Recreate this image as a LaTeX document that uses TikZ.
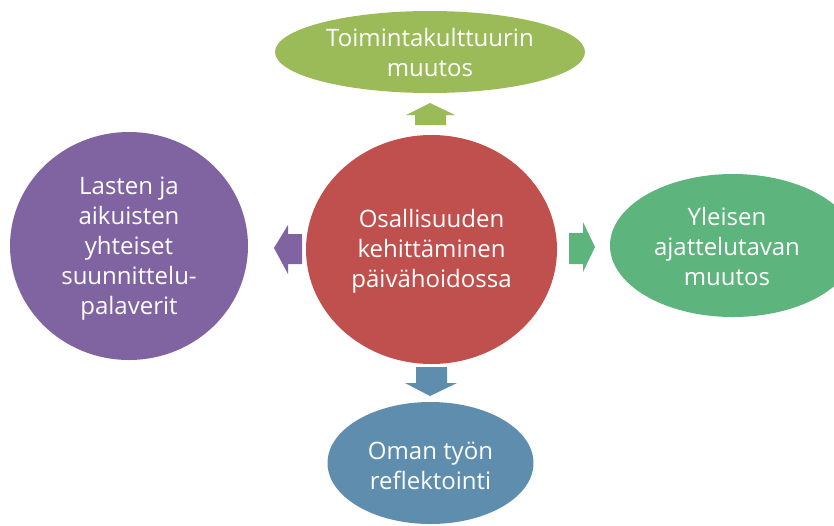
\documentclass[tikz,border=0pt]{standalone}
\usepackage{fontspec}
\setmainfont{Open Sans}
\definecolor{cred}{HTML}{C0504D}
\definecolor{cgreen}{HTML}{9BBB59}
\definecolor{cpurple}{HTML}{8064A2}
\definecolor{cmint}{HTML}{5DB47C}
\definecolor{cblue}{HTML}{5E8DAE}
\tikzset{
  blob/.style={inner sep=0pt, text=white, align=center,
    font=\fontsize{24}{30}\selectfont}
}
\begin{document}
\begin{tikzpicture}[x=1pt,y=-1pt]
\useasboundingbox (0,0) rectangle (834,525);
% shapes
\fill[cred] (431.5,249.5) ellipse [x radius=125.5, y radius=114.5];
\node[blob] (center) at (431.5,251) {Osallisuuden\\kehittäminen\\päivähoidossa};
\fill[cgreen] (430,52) ellipse [x radius=155, y radius=41];
\node[blob] (top) at (430,52) {Toimintakulttuurin\\muutos};
\fill[cmint] (733,245.5) ellipse [x radius=123, y radius=71.5];
\node[blob] (right) at (727,246) {Yleisen\\ajattelutavan\\muutos};
\fill[cpurple] (129,246) ellipse [x radius=119, y radius=114];
\node[blob] (left) at (129,249) {Lasten ja\\aikuisten\\yhteiset\\suunnittelu-\\palaverit};
\fill[cblue] (430.5,463) ellipse [x radius=103, y radius=61];
\node[blob] (bottom) at (430.5,466) {Oman työn\\reflektointi};
% block arrows
\fill[cgreen] (430,103) -- (455,115) -- (446,115) -- (446,125) -- (415,125) -- (415,115) -- (406,115) -- cycle;
\fill[cmint] (595,247) -- (583,272) -- (583,264) -- (569,264) -- (569,233) -- (583,233) -- (583,222) -- cycle;
\fill[cpurple] (274,248) -- (288,225) -- (288,234) -- (302,234) -- (302,264) -- (288,264) -- (288,274) -- cycle;
\fill[cblue] (430,396) -- (457,383) -- (447,383) -- (447,367) -- (416,367) -- (416,383) -- (405,383) -- cycle;
\end{tikzpicture}
\end{document}
